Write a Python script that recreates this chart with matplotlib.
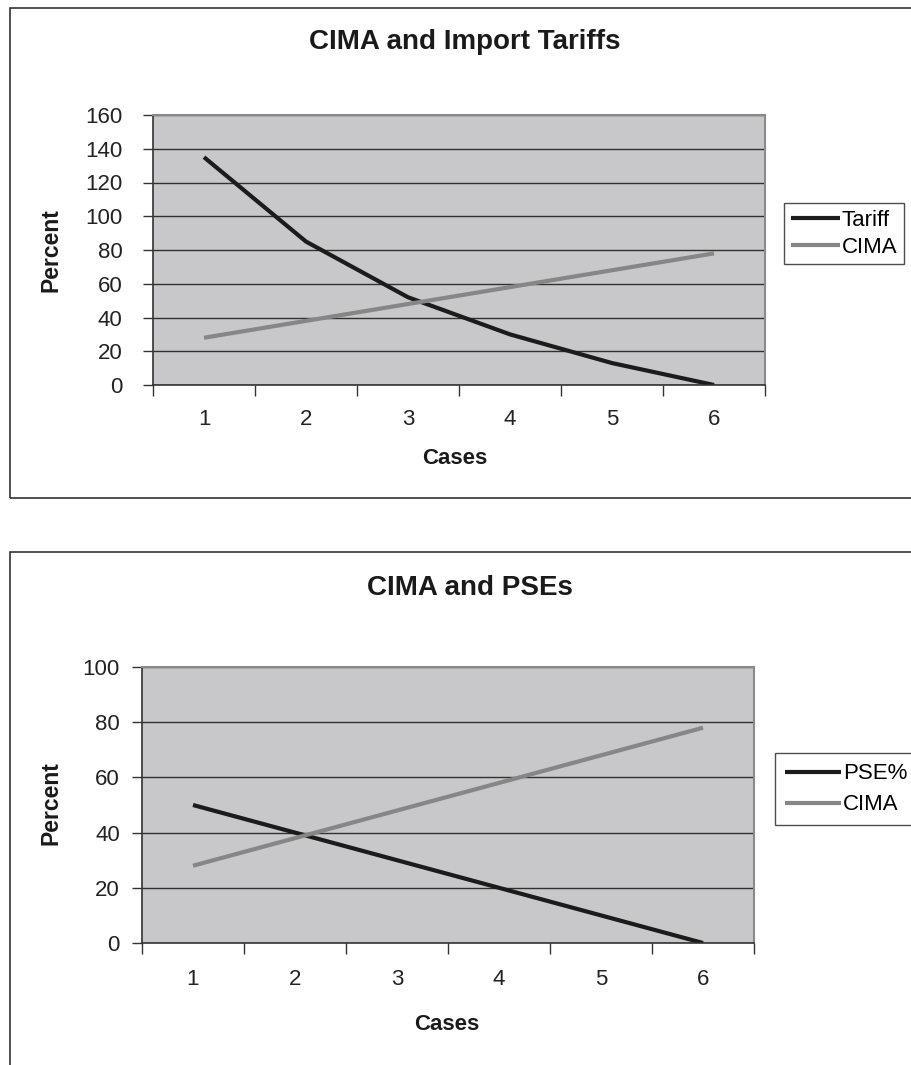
import matplotlib.pyplot as plt
from matplotlib.patches import Rectangle

plt.rcParams['font.family'] = ['Liberation Sans', 'DejaVu Sans']

cases = [1, 2, 3, 4, 5, 6]
tariff = [135, 85, 52, 30, 13, 0]
cima = [28, 38, 48, 58, 68, 78]
pse = [50, 40, 30, 20, 10, 0]

BG = '#c8c8ca'
DARK = '#1c1a1a'
GREY = '#868686'


def style_axes(ax, ymax, ypad, xpad):
    ax.set_facecolor(BG)
    ax.set_xlim(0.5, 6.5)
    ax.set_ylim(0, ymax)
    ax.set_yticks(range(0, ymax + 1, 20))
    ax.yaxis.grid(True, color='#303030', lw=1.0)
    ax.set_axisbelow(True)
    # category boundaries carry the tick marks, centres carry the labels
    ax.set_xticks([i + 0.5 for i in range(0, 7)])
    ax.set_xticklabels([])
    ax.set_xticks(cases, minor=True)
    ax.set_xticklabels([str(c) for c in cases], minor=True)
    ax.tick_params(axis='x', which='major', length=8, width=1, color='#333333')
    ax.tick_params(axis='x', which='minor', length=0, pad=xpad, labelsize=16,
                   labelcolor='#222222')
    ax.tick_params(axis='y', length=7, width=1, color='#333333', pad=ypad, labelsize=16,
                   labelcolor='#222222')
    for s in ['top', 'right']:
        ax.spines[s].set_color('#8a8a8a')
        ax.spines[s].set_linewidth(1.5)
    for s in ['left', 'bottom']:
        ax.spines[s].set_color('#333333')
        ax.spines[s].set_linewidth(1.2)


fig = plt.figure(figsize=(9.11, 10.65), dpi=100)

# outer chart frames (run off the right edge like the source)
fig.patches.append(Rectangle((10 / 911, 1 - 498 / 1065), 1.0, 490 / 1065,
                             transform=fig.transFigure, fill=False,
                             edgecolor='#333333', lw=1.2, clip_on=False))
fig.patches.append(Rectangle((10 / 911, -0.1), 1.0, 0.1 + 1 - 552 / 1065,
                             transform=fig.transFigure, fill=False,
                             edgecolor='#333333', lw=1.2, clip_on=False))

# top chart
ax1 = fig.add_axes([153 / 911, 1 - 385 / 1065, 612 / 911, 270 / 1065])
style_axes(ax1, 160, 15, 17)
ax1.plot(cases, tariff, color=DARK, lw=3, solid_capstyle='butt', label='Tariff')
ax1.plot(cases, cima, color=GREY, lw=3, solid_capstyle='butt', label='CIMA')
leg1 = ax1.legend(loc='upper left', bbox_to_anchor=(784 / 911, 1 - 214 / 1065, 0.2, 0.01),
                  bbox_transform=fig.transFigure, fontsize=16, frameon=True,
                  fancybox=False, edgecolor='#222222', borderaxespad=0,
                  handlelength=2.2, handletextpad=0.1, borderpad=0.3,
                  labelspacing=0.25)
leg1.get_frame().set_linewidth(1.0)

fig.text(465 / 911, 1 - 42 / 1065, 'CIMA and Import Tariffs', ha='center', va='center',
         fontsize=20, fontweight='bold', color='#1a1a1a')
fig.text(455 / 911, 1 - 459 / 1065, 'Cases', ha='center', va='center',
         fontsize=16, fontweight='bold', color='#1a1a1a')
fig.text(51 / 911, 1 - 250 / 1065, 'Percent', ha='center', va='center', rotation=90,
         fontsize=16.5, fontweight='bold', color='#1a1a1a')

# bottom chart
ax2 = fig.add_axes([142 / 911, 1 - 943 / 1065, 612 / 911, 276 / 1065])
style_axes(ax2, 100, 9, 19)
ax2.plot(cases, pse, color=DARK, lw=3, solid_capstyle='butt', label='PSE%')
ax2.plot(cases, cima, color=GREY, lw=3, solid_capstyle='butt', label='CIMA')
leg2 = ax2.legend(loc='upper left', bbox_to_anchor=(775 / 911, 1 - 764 / 1065, 0.2, 0.01),
                  bbox_transform=fig.transFigure, fontsize=16, frameon=True,
                  fancybox=False, edgecolor='#222222', borderaxespad=0,
                  handlelength=2.5, handletextpad=0.1, borderpad=0.45,
                  labelspacing=0.45)
leg2.get_frame().set_linewidth(1.0)

fig.text(470 / 911, 1 - 588 / 1065, 'CIMA and PSEs', ha='center', va='center',
         fontsize=20, fontweight='bold', color='#1a1a1a')
fig.text(447 / 911, 1 - 1024 / 1065, 'Cases', ha='center', va='center',
         fontsize=16, fontweight='bold', color='#1a1a1a')
fig.text(51 / 911, 1 - 803 / 1065, 'Percent', ha='center', va='center', rotation=90,
         fontsize=16.5, fontweight='bold', color='#1a1a1a')

fig.savefig('out.png', dpi=100)
